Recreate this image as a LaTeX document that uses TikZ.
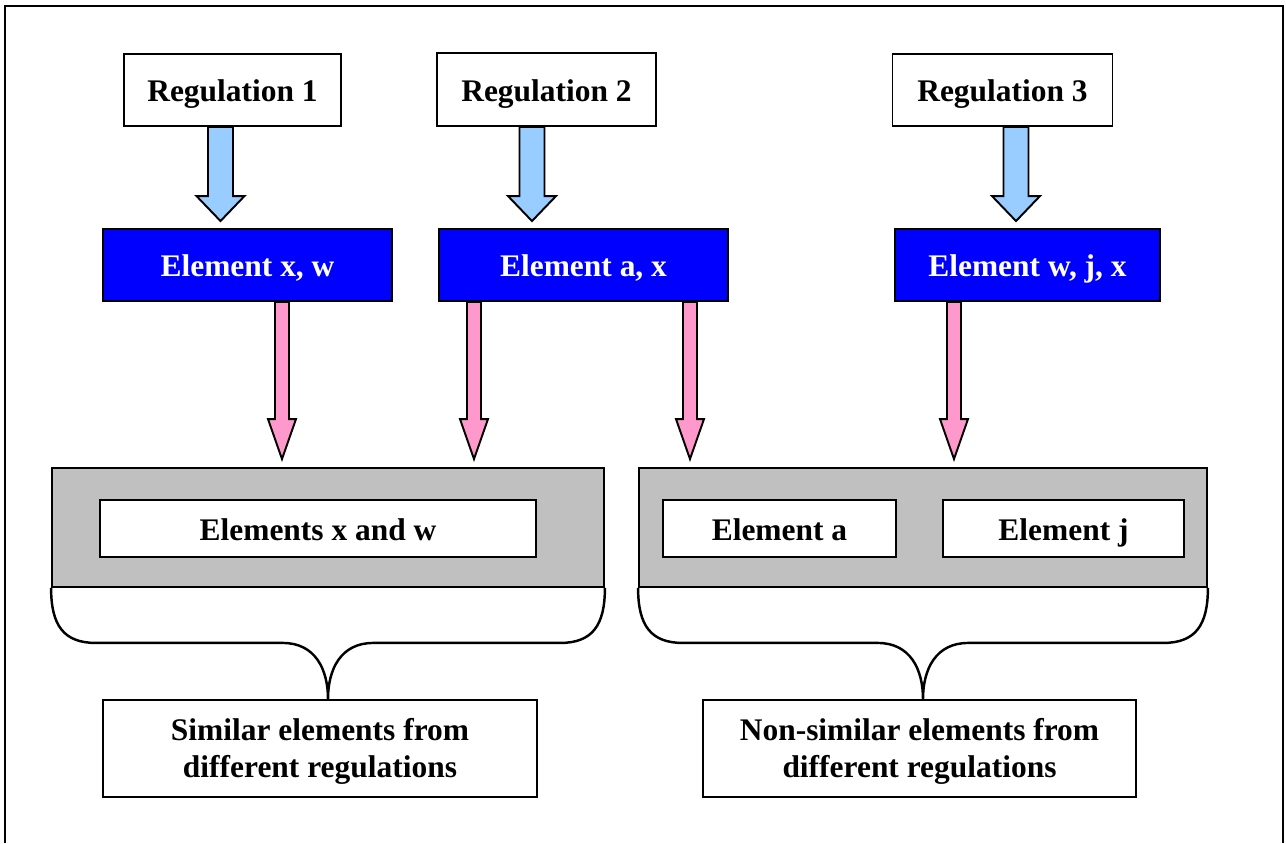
\documentclass[tikz,border=0pt]{standalone}
\usepackage{fontspec}
\setmainfont{Liberation Serif}
\usetikzlibrary{calc}
\definecolor{lblue}{RGB}{153,204,255}
\definecolor{pinkc}{RGB}{255,153,204}
\definecolor{grayc}{RGB}{192,192,192}
\definecolor{boxblue}{RGB}{0,0,255}
% #1 style, #2 x coordinate, #3 from node, #4 to node, #5 shaft half width,
% #6 head half width, #7 head base offset above target, #8 tip offset above target
\newcommand\blockarrow[8]{%
  \draw[#1] ($(#2 |- #3.south)+(-#5,0)$) -- ($(#2 |- #4.north)+(-#5,-#7)$)
    -- ($(#2 |- #4.north)+(-#6,-#7)$) -- ($(#2 |- #4.north)+(0,-#8)$)
    -- ($(#2 |- #4.north)+(#6,-#7)$) -- ($(#2 |- #4.north)+(#5,-#7)$)
    -- ($(#2 |- #3.south)+(#5,0)$) -- cycle;}
\newcommand\curlybrace[2]{%
  \draw[bracestyle] (#1.south west) .. controls +(0,38) and +(-32,0) .. ($(#1.south west)+(45,55)$)
    -- ($(#1.south)+(-45,55)$) .. controls +(32,0) and +(0,-30) .. (#1.south |- #2.north)
    .. controls +(0,-30) and +(-32,0) .. ($(#1.south)+(45,55)$)
    -- ($(#1.south east)+(-45,55)$) .. controls +(32,0) and +(0,38) .. (#1.south east);}
\newcommand\topstrut{\rule{0pt}{15.9pt}}
\begin{document}
\begin{tikzpicture}[x=0.02cm,y=-0.02cm,
  every node/.style={font=\fontsize{17.9}{21.6}\selectfont\bfseries, inner sep=0pt},
  oneline/.style={text height=14.5pt, text depth=0.9pt},
  whitebox/.style={draw=black, line width=1.1pt, fill=white},
  bluebox/.style={draw=black, line width=1.1pt, fill=boxblue, text=white, minimum height=1.44cm, oneline},
  graybox/.style={draw=black, line width=1.1pt, fill=grayc, minimum height=2.38cm},
  bluearr/.style={draw=black, line width=1.1pt, fill=lblue, line join=miter},
  pinkarr/.style={draw=black, line width=1.1pt, fill=pinkc, line join=miter},
  bracestyle/.style={draw=black, line width=1.4pt}]
\useasboundingbox (0,0) rectangle (1286,843);
\draw[line width=1.6pt] (5,843) -- (5,6) -- (1283,6) -- (1283,843);

% regulations
\node[whitebox, oneline, minimum width=4.34cm, minimum height=1.44cm] (r1) at (232.5,90) {Regulation 1};
\node[whitebox, oneline, minimum width=4.38cm, minimum height=1.46cm] (r2) at (546.5,89.5) {Regulation 2};
\node[whitebox, oneline, minimum width=4.40cm, minimum height=1.44cm] (r3) at (1002.5,90) {Regulation 3};

% elements
\node[bluebox, minimum width=5.78cm] (e1) at (247.5,265) {Element x, w};
\node[bluebox, minimum width=5.78cm] (e2) at (583.5,265) {Element a, x};
\node[bluebox, minimum width=5.30cm] (e3) at (1027.5,265) {Element w, j, x};

% gray groups
\node[graybox, minimum width=11.04cm] (g1) at (328,527.5) {};
\node[graybox, minimum width=11.36cm] (g2) at (923,527.5) {};
\node[whitebox, oneline, minimum width=8.72cm, minimum height=1.14cm] (i1) at (318,528.5) {Elements x and w};
\node[whitebox, oneline, minimum width=4.66cm, minimum height=1.14cm] (i2) at (779.5,528.5) {Element a};
\node[whitebox, oneline, minimum width=4.82cm, minimum height=1.14cm] (i3) at (1063.5,528.5) {Element j};

% bottom boxes
\node[whitebox, minimum width=8.68cm, minimum height=1.94cm, align=center] (b1) at (320,748.5) {\topstrut Similar elements from\\different regulations};
\node[whitebox, minimum width=8.66cm, minimum height=1.94cm, align=center] (b2) at (919.5,748.5) {\topstrut Non-similar elements from\\different regulations};

% arrow columns
\coordinate (xa1) at (220.5,0);
\coordinate (xa2) at (532,0);
\coordinate (xa3) at (1016,0);
\coordinate (xp1) at (282,0);
\coordinate (xp2) at (474,0);
\coordinate (xp3) at (690,0);
\coordinate (xp4) at (954,0);

\blockarrow{bluearr}{xa1}{r1}{e1}{12.5}{24}{32}{7}
\blockarrow{bluearr}{xa2}{r2}{e2}{12.5}{24}{32}{7}
\blockarrow{bluearr}{xa3}{r3}{e3}{12.5}{24}{32}{7}

\blockarrow{pinkarr}{xp1}{e1}{g1}{7}{14}{48}{8}
\blockarrow{pinkarr}{xp2}{e2}{g1}{7}{14}{48}{8}
\blockarrow{pinkarr}{xp3}{e2}{g2}{7}{14}{48}{8}
\blockarrow{pinkarr}{xp4}{e3}{g2}{7}{14}{48}{8}

\curlybrace{g1}{b1}
\curlybrace{g2}{b2}
\end{tikzpicture}
\end{document}
